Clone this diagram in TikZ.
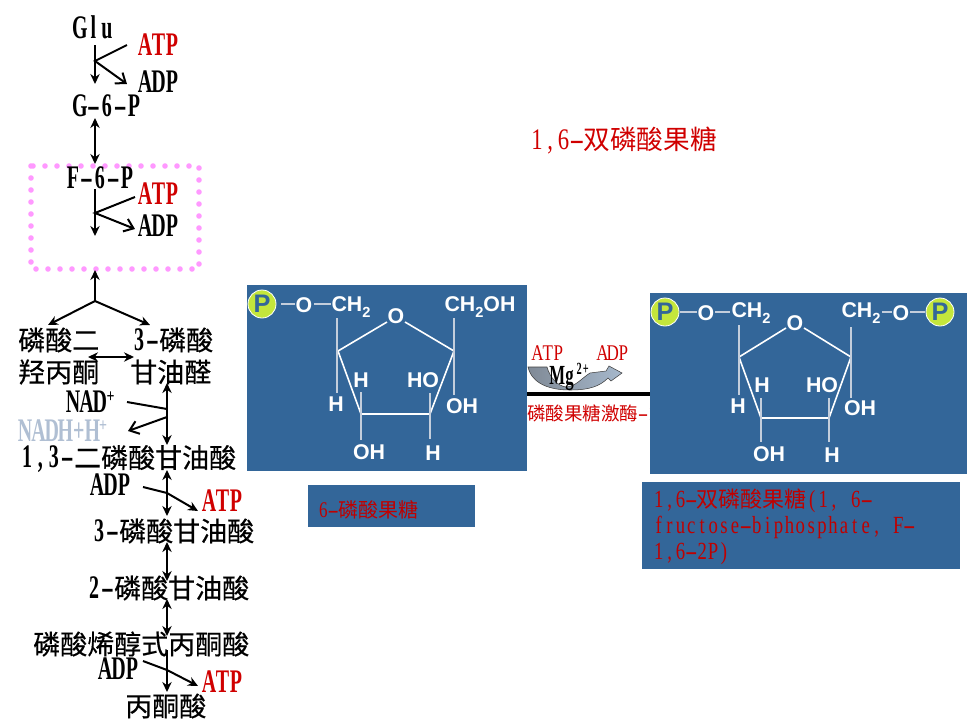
\documentclass[tikz,border=0pt]{standalone}
\usepackage{fontspec}
\usetikzlibrary{arrows.meta,shadings}
\setmainfont{Liberation Serif}
\setsansfont{Liberation Sans}
\newfontfamily\cjkb[FakeBold=0.5]{Noto Sans CJK SC}
\newfontfamily\cjkr{Noto Sans CJK SC}
\newfontfamily\latb[FakeStretch=.74]{Liberation Serif}
\newfontfamily\latr[FakeStretch=.85]{Liberation Serif}
\newlength\hw
\makeatletter
\def\hwdash{-}
\newcommand\hwt[1]{\@tfor\hwc:=#1\do{\makebox[\hw]{\ifx\hwc\hwdash\scalebox{2}[1]{-}\else\hwc\fi}}}
\makeatother
\newcommand\la[1]{\scalebox{1}[1.22]{\latb\bfseries\hwt{#1}}}
\newcommand\lr[1]{\scalebox{1}[1.12]{\latr\hwt{#1}}}
\newcommand\zh[1]{{\cjkb #1}}
\newcommand\zr[1]{{\cjkr #1}}
\definecolor{panel}{HTML}{336699}
\definecolor{redtxt}{HTML}{D00000}
\definecolor{labred}{HTML}{C00000}
\definecolor{nadh}{HTML}{B0BFD3}
\definecolor{dots}{HTML}{FF99FF}
\definecolor{ballc}{HTML}{C4E63C}
\definecolor{thinc}{HTML}{C4CEDC}
\definecolor{arrowl}{HTML}{808A96}
\definecolor{arrowr}{HTML}{A6B8CC}
\tikzset{
  lbl/.style={anchor=west,inner sep=0pt,font=\fontsize{20.25pt}{24pt}\selectfont\setlength\hw{10.1pt}},
  redlbl/.style={lbl,text=redtxt},
  small/.style={anchor=west,inner sep=0pt,font=\fontsize{15pt}{16pt}\selectfont\setlength\hw{7.8pt}},
  mol/.style={inner sep=0pt,text=white,font=\fontsize{16pt}{18pt}\selectfont\bfseries\sffamily},
  ballnode/.style={circle,fill=ballc,draw=white,line width=.6pt,minimum size=21pt,inner sep=0pt,text=panel,font=\fontsize{19pt}{20pt}\selectfont\bfseries\sffamily},
  solid arrow/.style={line width=1.5pt,-{Stealth[length=7.5pt,width=7pt]}},
  both arrow/.style={line width=1.5pt,{Stealth[length=7.5pt,width=7pt]}-{Stealth[length=7.5pt,width=7pt]}},
  open arrow/.style={line width=1.5pt,-{Straight Barb[length=6.5pt,width=10pt]}},
  plain/.style={line width=1.5pt},
  ringl/.style={white,line width=1.2pt},
  thinl/.style={thinc,line width=.9pt},
}
\begin{document}
\begin{tikzpicture}[x=.75pt,y=-.75pt]
\useasboundingbox (0,0) rectangle (968,726);
\fill[white] (0,0) rectangle (968,726);
% ---- dotted highlight
\draw[dots,line width=4.2pt,line cap=round,dash pattern=on 0pt off 9pt] (31,166) rectangle (199,269);
% ---- left column texts
\node[lbl] (glu) at (73,27) {\la{Glu}};
\node[redlbl] (atpa) at (138,45) {\la{ATP}};
\node[lbl] (adpa) at (138,82) {\la{ADP}};
\node[lbl] (g6p) at (73,106) {\la{G-6-P}};
\node[lbl] (f6p) at (66,178) {\la{F-6-P}};
\node[redlbl] (atpb) at (138,194) {\la{ATP}};
\node[lbl] (adpb) at (138,226) {\la{ADP}};
\node[lbl] (dhap1) at (18,340) {\zh{磷酸二}};
\node[lbl] (dhap2) at (18,372) {\zh{羟丙酮}};
\node[lbl] (gap1) at (132,340) {\la{3-}\zh{磷酸}};
\node[lbl] (gap2) at (130,372) {\zh{甘油醛}};
\node[lbl] (nad) at (66,402) {\la{NAD}\textsuperscript{\latb\bfseries +}};
\node[lbl,text=nadh] (nadh) at (18,431) {\la{NADH+H}\textsuperscript{\latb\bfseries +}};
\node[lbl] (bpg) at (20,459) {\la{1,3-}\zh{二磷酸甘油酸}};
\node[lbl] (adpc) at (90,485) {\la{ADP}};
\node[redlbl] (atpc) at (202,501) {\la{ATP}};
\node[lbl] (pg3) at (92,531) {\la{3-}\zh{磷酸甘油酸}};
\node[lbl] (pg2) at (87,588) {\la{2-}\zh{磷酸甘油酸}};
\node[lbl] (pep) at (33,644) {\zh{磷酸烯醇式丙酮酸}};
\node[lbl] (adpd) at (98,669) {\la{ADP}};
\node[redlbl] (atpd) at (202,682) {\la{ATP}};
\node[lbl] (pyr) at (125,706) {\zh{丙酮酸}};
% ---- left column coordinates
\foreach \n/\x/\y in {a1/95/45,a2/95/84,aj/95/61,aa/127/45,ab/127/84,
  b1/95/118,b2/95/164,c1/95/189,c2/95/236,cj/95/213,ca/135/197,cb/135/229,
  d1/95/270,dj/95/301,dl/48/325,dr/150/325,e1/88/357,e2/134/357,
  f1/167/383,f2/167/445,fa/127/402,fj/167/409,fk/167/417,fb/128/431,
  g1/167/470,g2/167/516,ga/143/487,gj/167/493,gb/198/511,
  h1/167/542,h2/167/581,i1/167/599,i2/167/636,
  j1/167/650,j2/167/692,ja/143/661,jj/167/670,jb/198/686}
  {\coordinate (\n) at (\x,\y);}
\draw[solid arrow] (a1) -- (a2);
\draw[open arrow] (aa) -- (aj) -- (ab);
\draw[both arrow] (b1) -- (b2);
\draw[solid arrow] (c1) -- (c2);
\draw[open arrow] (ca) -- (cj) -- (cb);
\draw[solid arrow,-{Stealth[length=7.5pt,width=7pt]},{Stealth[length=7.5pt,width=7pt]}-] (d1) -- (dj);
\draw[solid arrow] (dj) -- (dl);
\draw[solid arrow] (dj) -- (dr);
\draw[both arrow] (e1) -- (e2);
\draw[both arrow] (f1) -- (f2);
\draw[plain] (fa) -- (fj);
\draw[open arrow] (fk) -- (fb);
\draw[both arrow] (g1) -- (g2);
\draw[solid arrow] (ga) -- (gj) -- (gb);
\draw[both arrow] (h1) -- (h2);
\draw[both arrow] (i1) -- (i2);
\draw[solid arrow] (j1) -- (j2);
\draw[solid arrow] (ja) -- (jj) -- (jb);
% ---- title
\node[lbl,text=redtxt] (title) at (530,141) {\fontsize{20pt}{24pt}\selectfont\setlength\hw{10pt}\lr{1,6-}\zr{双磷酸果糖}};
% ---- enzyme step
\node[anchor=west,inner sep=0pt,text=redtxt,font=\fontsize{13.9pt}{16pt}\selectfont] (enz) at (527,413) {\setlength\hw{7pt}\zr{磷酸果糖激酶}\lr{-1}};
\coordinate (bara) at (527,394);
\coordinate (barb) at (650,394);
\draw[black,line width=2.6pt] (bara) -- (barb);
\draw[draw=black!75,line width=.4pt,left color=arrowl,right color=arrowr]
  (528,367) -- (547,367) .. controls (550,378) and (558,386) .. (566,387)
  .. controls (575,387) and (582,378) .. (590,373)
  -- (606,371) -- (609,366) -- (622,373) -- (611,381) -- (608,378)
  .. controls (600,386) and (590,390) .. (570,390)
  .. controls (550,390) and (532,384) .. (528,367) -- cycle;
\node[small,text=redtxt] (atpe) at (532,353) {\lr{ATP}};
\node[small,text=redtxt] (adpe) at (597,353) {\lr{ADP}};
\node[small,font=\fontsize{17pt}{18pt}\selectfont\setlength\hw{9.2pt}] (mg) at (551,377) {\la{Mg}\raisebox{.45em}{\fontsize{10.5pt}{12pt}\selectfont\setlength\hw{5pt}\la{2+}}};
% ---- left panel
\fill[panel] (247,285) rectangle (527,471);
\node[ballnode] (pl) at (262,304) {P};
\node[mol] (o1l) at (304,305) {O};
\node[mol] (ch2l) at (351,307) {CH\raisebox{-.3em}{\fontsize{11pt}{12pt}\selectfont 2}};
\node[mol] (o2l) at (396,316) {O};
\node[mol] (ch2ohl) at (480,307) {CH\raisebox{-.3em}{\fontsize{11pt}{12pt}\selectfont 2}OH};
\node[mol] (h1l) at (336,404) {H};
\node[mol] (h2l) at (361,380) {H};
\node[mol] (ho1l) at (423,380) {HO};
\node[mol] (oh1l) at (462,406) {OH};
\node[mol] (oh2l) at (369,452) {OH};
\node[mol] (h3l) at (433,453) {H};
\foreach \n/\x/\y in {va/338/351,vb/361/414,vc/430/414,vd/454/351,
   ta/337/318,tb/337/393,tc/454/318,td/454/395,te/361/392,tf/361/440,tg/430/393,th/430/439,
   pa/281/304,pb/295/304,pc/314/304,pd/331/304,ra/387/322,rb/405/322}
  {\coordinate (\n) at (\x,\y);}
\draw[ringl] (rb) -- (vd) -- (vc) -- (vb) -- (va) -- (ra);
\draw[thinl] (ta) -- (tb) (tc) -- (td) (te) -- (tf) (tg) -- (th);
\draw[thinl,line width=1.1pt] (pa) -- (pb) (pc) -- (pd);
% ---- left label
\fill[panel] (308,485) rectangle (475,527);
\node[anchor=west,inner sep=0pt,text=labred,font=\fontsize{15pt}{18pt}\selectfont\setlength\hw{7.5pt}] (l6p) at (318,510) {\lr{6-}\zr{磷酸果糖}};
% ---- right panel
\fill[panel] (650,293) rectangle (967,474);
\node[ballnode] (pr1) at (665,312) {P};
\node[mol] (o1r) at (706,313) {O};
\node[mol] (ch2r) at (751,313) {CH\raisebox{-.3em}{\fontsize{11pt}{12pt}\selectfont 2}};
\node[mol] (o2r) at (795,323) {O};
\node[mol] (ch2rb) at (861,313) {CH\raisebox{-.3em}{\fontsize{11pt}{12pt}\selectfont 2}};
\node[mol] (o3r) at (901,313) {O};
\node[ballnode] (pr2) at (940,312) {P};
\node[mol] (h1r) at (738,406) {H};
\node[mol] (h2r) at (762,385) {H};
\node[mol] (ho1r) at (822,385) {HO};
\node[mol] (oh1r) at (860,408) {OH};
\node[mol] (oh2r) at (769,454) {OH};
\node[mol] (h3r) at (832,455) {H};
\foreach \n/\x/\y in {wa/739/357,wb/761/418,wc/829/418,wd/851/357,
   ua/739/325,ub/739/395,uc/851/327,ud/851/398,ue/761/398,uf/761/442,ug/829/398,uh/829/442,
   qa/680/312,qb/697/312,qc/715/312,qd/730/312,qe/882/312,qf/892/312,qg/910/312,qh/925/312,sa/786/328,sb/804/328}
  {\coordinate (\n) at (\x,\y);}
\draw[ringl] (sb) -- (wd) -- (wc) -- (wb) -- (wa) -- (sa);
\draw[thinl] (ua) -- (ub) (uc) -- (ud) (ue) -- (uf) (ug) -- (uh);
\draw[thinl] (qa) -- (qb) (qc) -- (qd) (qe) -- (qf) (qg) -- (qh);
% ---- right label
\fill[panel] (642,482) rectangle (960,569);
\node[anchor=north west,inner sep=0pt,text=labred,align=left,font=\fontsize{16.5pt}{19.2pt}\selectfont\setlength\hw{8.17pt}] (lbp) at (653,489)
 {\lr{1,6-}\zr{双磷酸果糖}\lr{(1,~6-}\\ \lr{fructose-biphosphate,~F-}\\ \lr{1,6-2P)}};
\end{tikzpicture}
\end{document}
